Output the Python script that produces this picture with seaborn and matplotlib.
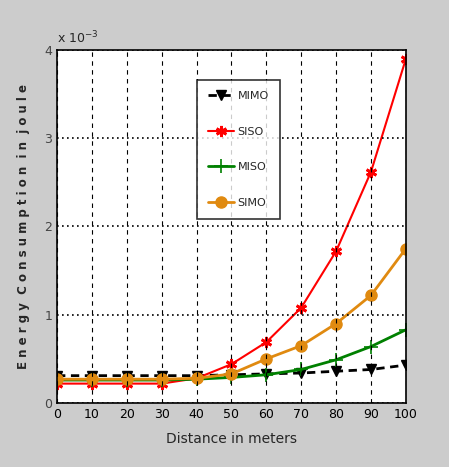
import numpy as np
import pandas as pd
import matplotlib
matplotlib.use("Agg")
import matplotlib.pyplot as plt
import seaborn as sns

distance = [0, 10, 20, 30, 40, 50, 60, 70, 80, 90, 100]
mimo = [0.31, 0.31, 0.31, 0.31, 0.31, 0.32, 0.33, 0.34, 0.36, 0.38, 0.43]
siso = [0.22, 0.22, 0.22, 0.22, 0.28, 0.44, 0.69, 1.08, 1.72, 2.62, 3.90]
miso = [0.26, 0.26, 0.26, 0.26, 0.27, 0.29, 0.32, 0.38, 0.49, 0.64, 0.83]
simo = [0.27, 0.27, 0.27, 0.27, 0.28, 0.33, 0.50, 0.65, 0.90, 1.22, 1.75]

series = {"MIMO": mimo, "SISO": siso, "MISO": miso, "SIMO": simo}
styles = {
    "MIMO": dict(color="black", marker="v", linestyle=(0, (3, 2)), markersize=7, lw=2),
    "SISO": dict(color="#ff0000", marker=(6, 2, 0), linestyle="-", markersize=8, lw=1.5, mew=2),
    "MISO": dict(color="#008000", marker="+", linestyle="-", markersize=10, lw=2, mew=1.2),
    "SIMO": dict(color="#e08a10", marker="o", linestyle="-", markersize=8, lw=2),
}

sns.set_style("white")
plt.rcParams["font.family"] = ["DejaVu Sans"]

fig = plt.figure(figsize=(4.49, 4.67), dpi=100, facecolor="#cccccc")
ax = fig.add_axes([0.127, 0.137, 0.777, 0.756])
ax.set_facecolor("white")

for name, vals in series.items():
    st = styles[name]
    sns.lineplot(x=np.array(distance), y=np.array(vals) * 1e-3, ax=ax, label=name,
                 color=st["color"], marker=st["marker"], linestyle=st["linestyle"],
                 markersize=st["markersize"], linewidth=st["lw"],
                 markeredgecolor=st["color"], markeredgewidth=st.get("mew", 1))

ax.set_xlim(0, 100)
ax.set_ylim(0, 4e-3)
ax.set_xticks(distance)
ax.set_yticks([0, 1e-3, 2e-3, 3e-3, 4e-3])
ax.set_yticklabels(["0", "1", "2", "3", "4"])
ax.tick_params(direction="in", length=4, labelsize=9, colors="black")
ax.tick_params(axis="y", labelcolor="#444")
for sp in ax.spines.values():
    sp.set_color("black")
    sp.set_linewidth(1.2)

ax.xaxis.grid(True, linestyle=(0, (4, 4)), color="black", lw=0.8)
ax.yaxis.grid(True, linestyle=(0, (1, 2)), color="black", lw=1.2)
ax.set_axisbelow(False)

ax.text(0.0, 1.01, r"x 10$^{-3}$", transform=ax.transAxes, fontsize=9, ha="left", va="bottom")

ax.set_xlabel("Distance in meters", fontsize=10, labelpad=8)
ax.set_ylabel("E n e r g y  C o n s u m p t i o n  i n  j o u l e", fontsize=8.5,
              fontweight="bold", labelpad=10)

leg = ax.legend(loc="upper left", bbox_to_anchor=(0.40, 0.915), frameon=True,
                fancybox=False, edgecolor="black", fontsize=8, handlelength=2.4,
                labelspacing=2.3, borderpad=1.0, handletextpad=0.3, borderaxespad=0)
leg.get_frame().set_linewidth(1.2)

fig.savefig("out.png", dpi=100, facecolor=fig.get_facecolor())
